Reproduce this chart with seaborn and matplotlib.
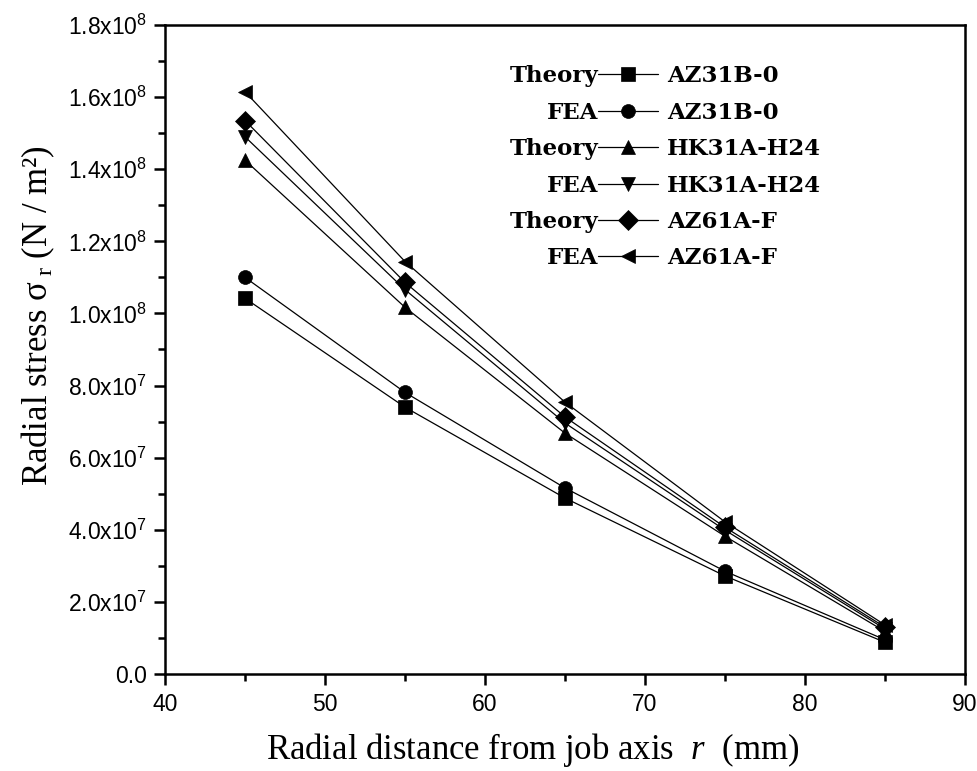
import math
import matplotlib
matplotlib.use("Agg")
import matplotlib.pyplot as plt
from matplotlib.lines import Line2D
from matplotlib.ticker import MultipleLocator, FuncFormatter
import seaborn as sns
import pandas as pd

# ---- data ----
radius = [45, 55, 65, 75, 85]
theory_az31b = [1.042e8, 7.40e7, 4.88e7, 2.72e7, 0.88e7]
fea_az31b = [1.100e8, 7.81e7, 5.16e7, 2.85e7, 0.95e7]
theory_hk31a = [1.425e8, 1.017e8, 6.68e7, 3.82e7, 1.18e7]
fea_hk31a = [1.490e8, 1.066e8, 6.96e7, 3.99e7, 1.25e7]
theory_az61a = [1.535e8, 1.086e8, 7.13e7, 4.07e7, 1.30e7]
fea_az61a = [1.615e8, 1.144e8, 7.54e7, 4.22e7, 1.36e7]

series_names = ["Theory AZ31B-0", "FEA AZ31B-0", "Theory HK31A-H24",
                "FEA HK31A-H24", "Theory AZ61A-F", "FEA AZ61A-F"]
method_labels = ["Theory", "FEA", "Theory", "FEA", "Theory", "FEA"]
material_labels = ["AZ31B-0", "AZ31B-0", "HK31A-H24", "HK31A-H24", "AZ61A-F", "AZ61A-F"]
series_values = [theory_az31b, fea_az31b, theory_hk31a, fea_hk31a, theory_az61a, fea_az61a]
marker_list = ["s", "o", "^", "v", "D", "<"]

rows = []
for name, vals in zip(series_names, series_values):
    for r, v in zip(radius, vals):
        rows.append({"r": r, "stress": v, "series": name})
df = pd.DataFrame(rows)

sns.set_theme(style="ticks")
plt.rcParams["mathtext.fontset"] = "custom"
plt.rcParams["mathtext.it"] = "Liberation Serif:italic"
plt.rcParams["mathtext.rm"] = "Liberation Serif"
plt.rcParams["font.family"] = ["Liberation Sans", "DejaVu Sans"]
plt.rcParams["text.color"] = "black"

fig = plt.figure(figsize=(9.78, 7.71), dpi=100)
ax = fig.add_axes([0.1687, 0.1258, 0.818, 0.8418])

sns.lineplot(data=df, x="r", y="stress", hue="series", style="series",
             hue_order=series_names, style_order=series_names,
             palette=["black"] * 6, markers=dict(zip(series_names, marker_list)),
             dashes=False, legend=False, ax=ax, linewidth=0.9,
             markersize=10, markeredgecolor="black", markeredgewidth=0.5)

ax.set_xlim(40, 90)
ax.set_ylim(0, 1.8e8)
ax.xaxis.set_major_locator(MultipleLocator(10))
ax.xaxis.set_minor_locator(MultipleLocator(5))
ax.yaxis.set_major_locator(MultipleLocator(2e7))
ax.yaxis.set_minor_locator(MultipleLocator(1e7))


def yfmt(v, pos):
    if abs(v) < 1:
        return "0.0"
    if v < 0:
        return ""
    e = int(math.floor(math.log10(v) + 1e-9))
    m = v / 10 ** e
    return r"$\mathregular{%.1fx10^{%d}}$" % (m, e)


ax.yaxis.set_major_formatter(FuncFormatter(yfmt))
for sp in ax.spines.values():
    sp.set_linewidth(1.8)
    sp.set_color("black")
ax.tick_params(which="major", direction="out", length=8, width=1.8,
               labelsize=16.5, colors="black", top=False, right=False)
ax.tick_params(axis="y", which="major", pad=5)
ax.tick_params(axis="x", which="major", pad=6)
ax.tick_params(which="minor", direction="out", length=5, width=1.8,
               colors="black", top=False, right=False)
for lab in ax.get_xticklabels() + ax.get_yticklabels():
    lab.set_family(["Liberation Sans", "DejaVu Sans"])

ax.set_xlabel(r"Radial distance from job axis  $\mathit{r}$  (mm)",
              family="Liberation Serif", fontsize=25, color="black")
ax.set_ylabel("Radial stress σ$_{\\ \\mathregular{r}}$ (N / m²)",
              family="Liberation Serif", fontsize=25, color="black")
ax.xaxis.set_label_coords(0.459, -0.088)
ax.yaxis.set_label_coords(-0.135, 0.553)

leg_handles = [Line2D([], [], color="black", linewidth=0.9, marker=m,
                      markersize=10, markeredgewidth=0.5) for m in marker_list]
legfont = {"family": "DejaVu Serif", "weight": "bold", "size": 16.5}
leg1 = ax.legend(leg_handles, method_labels, loc="upper right",
                 bbox_to_anchor=(0.616, 0.938), frameon=False, markerfirst=False,
                 handlelength=2.6, handletextpad=0.0, labelspacing=0.63,
                 borderpad=0, borderaxespad=0, prop=legfont, labelcolor="black")
ax.add_artist(leg1)
blank = [Line2D([], [], linestyle="none") for _ in marker_list]
ax.legend(blank, material_labels, loc="upper left",
          bbox_to_anchor=(0.6275, 0.938), frameon=False,
          handlelength=0.0, handletextpad=0.0, labelspacing=0.63,
          borderpad=0, borderaxespad=0, prop=legfont, labelcolor="black")

fig.savefig("out.png", dpi=100)
